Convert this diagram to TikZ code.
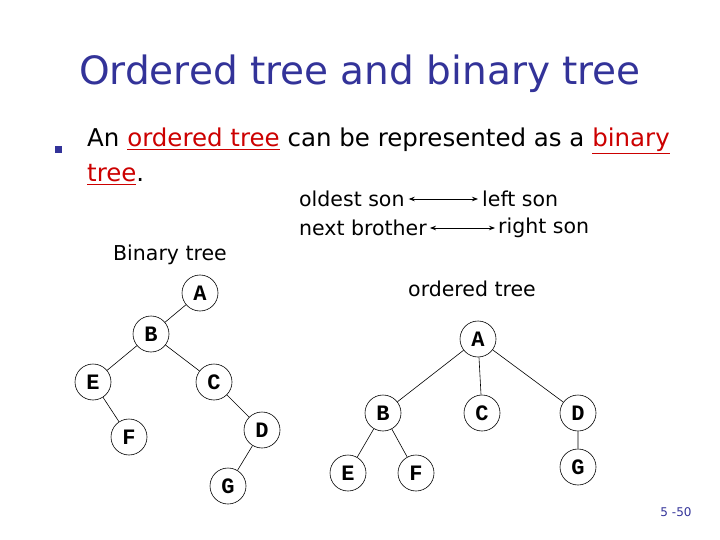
\documentclass[tikz,border=0pt]{standalone}
\usepackage{fontspec}
\setmainfont{DejaVu Sans}
\newfontfamily\mono{Liberation Mono}
\usetikzlibrary{arrows.meta}
\definecolor{tblue}{HTML}{333399}
\definecolor{lred}{HTML}{CC0000}
\begin{document}
\begin{tikzpicture}[x=1pt,y=-1pt,
  tn/.style={circle,draw,line width=0.6pt,minimum size=36pt,inner sep=0pt,font=\mono\bfseries\fontsize{22}{22}\selectfont},
  ed/.style={line width=0.6pt},
  body/.style={font=\fontsize{24.5}{28}\selectfont,inner sep=0pt,anchor=base west},
  lab/.style={font=\fontsize{20.5}{24}\selectfont,inner sep=0pt},
  ar/.style={{Stealth[length=6pt]}-{Stealth[length=6pt]},line width=0.8pt}]
\useasboundingbox (0,0) rectangle (720,540);
\node[font=\fontsize{39}{40}\selectfont,text=tblue,inner sep=0pt] (title) at (360,74) {Ordered tree and binary tree};
\fill[tblue] (55,146) rectangle (62,153);
\node[body] (l1) at (87,147) {An \textcolor{lred}{\underline{ordered tree}} can be represented as a \textcolor{lred}{\underline{binary}}};
\node[body] (l2) at (87,182) {\textcolor{lred}{\underline{tree}}.};
\node[lab,anchor=west] (os) at (299,199) {oldest son};
\node[lab,anchor=west] (nb) at (299,228) {next brother};
\node[lab,anchor=west] (ls) at (482,199) {left son};
\node[lab,anchor=west] (rs) at (498,228) {right son};
\draw[ar] ([xshift=4pt]os.east) -- ([xshift=-4pt]ls.west);
\draw[ar] ([xshift=3pt]nb.east) -- ([xshift=-3pt]rs.west);
\node[lab] (bt) at (170,255) {Binary tree};
\node[lab] (ot) at (472,289) {ordered tree};
% binary tree
\node[tn] (a) at (200,293) {A};
\node[tn] (b) at (151,334) {B};
\node[tn] (e) at (93,382) {E};
\node[tn] (c) at (214,382) {C};
\node[tn] (f) at (129,437) {F};
\node[tn] (d) at (262,430) {D};
\node[tn] (g) at (228,486) {G};
\draw[ed] (a)--(b) (b)--(e) (b)--(c) (e)--(f) (c)--(d) (d)--(g);
% ordered tree
\node[tn] (A) at (478,339) {A};
\node[tn] (B) at (383,413) {B};
\node[tn] (C) at (482,413) {C};
\node[tn] (D) at (578,413) {D};
\node[tn] (E) at (348,473) {E};
\node[tn] (F) at (416,473) {F};
\node[tn] (G) at (578,467) {G};
\draw[ed] (A)--(B) (A)--(C) (A)--(D) (B)--(E) (B)--(F) (D)--(G);
\node[font=\fontsize{12}{12}\selectfont,text=tblue,inner sep=0pt] (pg) at (676,512) {5 -50};
\end{tikzpicture}
\end{document}
